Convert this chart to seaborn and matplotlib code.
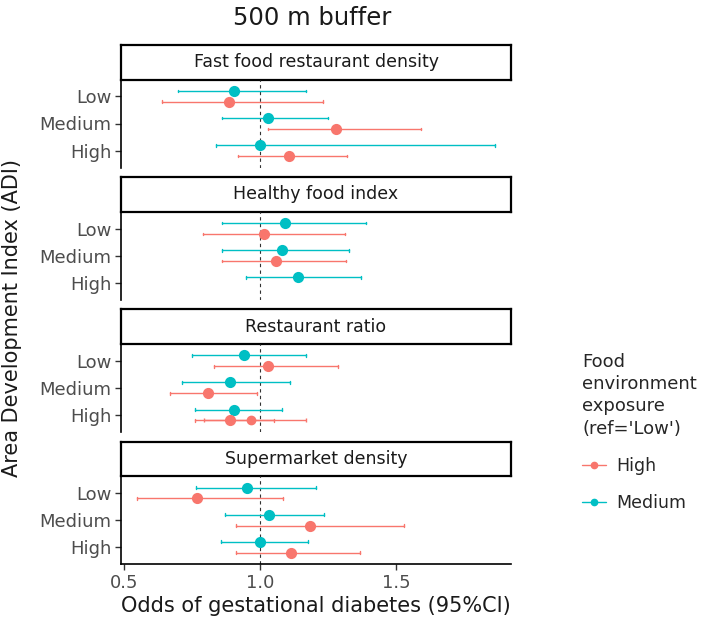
import numpy as np
import pandas as pd
import matplotlib
matplotlib.use('Agg')
import matplotlib.pyplot as plt
import seaborn as sns
from matplotlib.lines import Line2D

# ---- data ----
facets = ["Fast food restaurant density", "Healthy food index",
          "Restaurant ratio", "Supermarket density"]
adi_levels = ["Low", "Medium", "High"]
exposures = ["High", "Medium"]

# odds ratio point estimates, rows = facets, cols = ADI Low/Medium/High
high_pt = [[0.886, 1.28, 1.105], [1.015, 1.06, np.nan], [1.03, 0.81, 0.89], [0.77, 1.184, 1.113]]
high_lo = [[0.64, 1.03, 0.92], [0.79, 0.86, np.nan], [0.83, 0.67, 0.76], [0.547, 0.91, 0.91]]
high_hi = [[1.23, 1.59, 1.32], [1.31, 1.315, np.nan], [1.285, 0.99, 1.05], [1.083, 1.527, 1.368]]

med_pt = [[0.905, 1.03, 1.0], [1.09, 1.08, 1.14], [0.94, 0.89, 0.905], [0.952, 1.033, 1.0]]
med_lo = [[0.70, 0.86, 0.84], [0.86, 0.86, 0.95], [0.75, 0.715, 0.76], [0.764, 0.872, 0.855]]
med_hi = [[1.17, 1.25, 1.86], [1.39, 1.325, 1.37], [1.17, 1.11, 1.08], [1.206, 1.235, 1.174]]

# second (overlapping) High estimate drawn in the Restaurant ratio / High row
rr_extra_pt = 0.966
rr_extra_lo = 0.795
rr_extra_hi = 1.17

x_ticks = [0.5, 1.0, 1.5]
x_ticklabels = ["0.5", "1.0", "1.5"]

palette = {"High": "#F8766D", "Medium": "#00BFC4"}

# long table: lo / point / hi rows per estimate, median = point, min/max = CI
rows = []
for f, facet in enumerate(facets):
    for exp, pts, los, his in [("High", high_pt, high_lo, high_hi),
                               ("Medium", med_pt, med_lo, med_hi)]:
        for a, adi in enumerate(adi_levels):
            if np.isnan(pts[f][a]):
                continue
            for v in (los[f][a], pts[f][a], his[f][a]):
                rows.append(dict(facet=facet, exposure=exp, adi=adi, odds=v))
df = pd.DataFrame(rows)

sns.set_theme(style='white')
plt.rcParams['font.family'] = ['DejaVu Sans']

W, H = 703, 626
fig = plt.figure(figsize=(W / 100, H / 100), dpi=100)

left_px, right_px = 121, 511
pitch, strip_h, plot_h, top0 = 132.2, 34.5, 88, 45

def px_box(x0, y0, x1, y1):
    return [x0 / W, 1 - y1 / H, (x1 - x0) / W, (y1 - y0) / H]

for i, facet in enumerate(facets):
    st = top0 + i * pitch
    sax = fig.add_axes(px_box(left_px, st, right_px, st + strip_h))
    sax.set_xticks([]); sax.set_yticks([])
    for s in sax.spines.values():
        s.set_color('black'); s.set_linewidth(1.6); s.set_visible(True)
    sax.set_facecolor('white')
    sax.text(0.5, 0.5, facet, ha='center', va='center', fontsize=12.5, color='#1a1a1a',
             transform=sax.transAxes)

    ax = fig.add_axes(px_box(left_px, st + strip_h, right_px, st + strip_h + plot_h))
    sub = df[df['facet'] == facet]
    ax.axvline(1.0, color='#333333', ls=(0, (3, 3)), lw=0.8, zorder=0)
    sns.pointplot(data=sub, x='odds', y='adi', hue='exposure', hue_order=['Medium', 'High'],
                  order=adi_levels, palette=palette, estimator='median',
                  errorbar=lambda v: (v.min(), v.max()), dodge=0.4, linestyle='none',
                  markers='o', markersize=6, capsize=0.1, err_kws={'linewidth': 1},
                  orient='h', ax=ax, legend=False)
    if facet == "Restaurant ratio":
        yy = adi_levels.index("High") + 0.2
        ax.errorbar([rr_extra_pt], [yy],
                    xerr=[[rr_extra_pt - rr_extra_lo], [rr_extra_hi - rr_extra_pt]],
                    fmt='o', color=palette['High'], ms=6, elinewidth=1, capsize=1.5)
    ax.set_xlim(0.49, 1.92)
    ax.set_ylim(2.62, -0.62)
    ax.set_xlabel('')
    ax.set_ylabel('')
    for s in ['top', 'right']:
        ax.spines[s].set_visible(False)
    ax.spines['left'].set_color('black'); ax.spines['left'].set_linewidth(1.2)
    ax.tick_params(axis='y', left=True, length=4, width=1, color='#333333',
                   labelsize=13, labelcolor='#4d4d4d', pad=3)
    if i < len(facets) - 1:
        ax.spines['bottom'].set_visible(False)
        ax.set_xticks([])
    else:
        ax.spines['bottom'].set_color('black'); ax.spines['bottom'].set_linewidth(1.2)
        ax.set_xticks(x_ticks)
        ax.set_xticklabels(x_ticklabels)
        ax.tick_params(axis='x', bottom=True, length=4, width=1, color='#333333',
                       labelsize=13, labelcolor='#4d4d4d', pad=3)
        ax.set_xlabel("Odds of gestational diabetes (95%CI)", fontsize=15, color='#1a1a1a',
                      labelpad=3)
    ax.set_facecolor('none')

fig.text(312 / W, 1 - 18 / H, "500 m buffer", ha='center', va='center', fontsize=17.5,
         color='#1a1a1a')
fig.text(12 / W, 1 - 318 / H, "Area Development Index (ADI)", ha='center', va='center',
         rotation=90, fontsize=15, color='#1a1a1a')

handles = [Line2D([0], [0], color=palette[e], marker='o', ms=4.5, lw=1) for e in exposures]
leg = fig.legend(handles, exposures, title="Food\nenvironment\nexposure\n(ref='Low')",
                 loc='upper left', bbox_to_anchor=(582 / W, 1 - 353 / H), frameon=False,
                 alignment='left', fontsize=12.5, title_fontsize=13, labelspacing=1.1,
                 handlelength=1.4, handletextpad=0.6, borderpad=0, borderaxespad=0)
leg.get_title().set_linespacing(1.3)

fig.savefig('out.png', dpi=100)
